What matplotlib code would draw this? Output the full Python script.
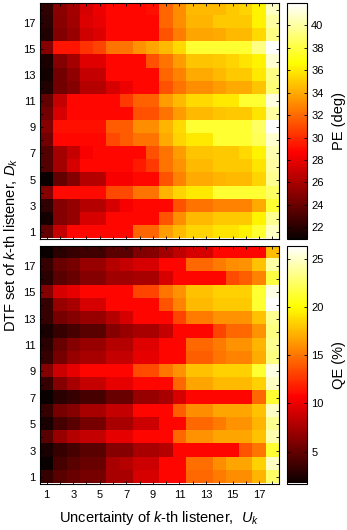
import numpy as np
import matplotlib as mpl
mpl.use('Agg')
import matplotlib.pyplot as plt

plt.rcParams['font.family'] = ['Liberation Sans', 'DejaVu Sans']
plt.rcParams['mathtext.fontset'] = 'custom'
plt.rcParams['mathtext.rm'] = 'Liberation Sans'
plt.rcParams['mathtext.it'] = 'Liberation Sans:italic'

# uncertainty U_k (columns) and DTF set D_k (rows)
uncertainty = list(range(1, 19))
dtf_set = list(range(1, 19))

# PE (deg), rows listed from D_k = 18 (top) down to D_k = 1
pe = [
    [22.3, 25.1, 25.9, 27.4, 28.2, 28.9, 28.9, 28.9, 29.2, 31.9, 33.1, 34.5, 34.5, 34.5, 35.0, 35.3, 36.3, 40.7],
    [22.0, 25.0, 25.7, 27.6, 28.0, 28.9, 28.9, 28.9, 28.9, 31.9, 33.1, 34.3, 34.3, 35.0, 35.0, 35.0, 36.3, 40.0],
    [21.8, 24.8, 25.5, 27.2, 27.6, 28.9, 28.9, 28.9, 28.9, 31.3, 32.6, 33.8, 33.8, 34.0, 34.5, 34.5, 35.5, 39.4],
    [24.9, 29.3, 29.3, 30.2, 30.8, 32.3, 32.3, 33.3, 33.8, 34.5, 35.5, 37.7, 37.7, 37.7, 37.7, 37.7, 39.4, 42.0],
    [21.6, 24.9, 25.9, 27.8, 27.8, 28.9, 28.9, 28.9, 31.2, 32.3, 33.6, 34.8, 34.8, 35.0, 35.3, 35.8, 36.3, 41.0],
    [21.4, 24.3, 25.2, 26.9, 26.9, 28.9, 28.9, 28.9, 28.9, 31.9, 32.8, 34.0, 34.0, 34.5, 35.0, 35.0, 36.0, 39.4],
    [21.8, 24.3, 24.9, 26.4, 26.4, 27.4, 28.2, 28.9, 28.9, 31.2, 32.3, 33.1, 33.1, 33.6, 34.0, 34.0, 34.8, 39.1],
    [23.8, 26.9, 28.9, 28.9, 28.9, 28.9, 30.5, 31.7, 31.7, 33.6, 34.5, 35.5, 35.5, 36.0, 36.0, 37.7, 37.7, 41.3],
    [24.3, 27.4, 28.9, 28.9, 28.9, 28.9, 28.9, 31.2, 31.2, 32.3, 33.6, 34.5, 34.5, 34.8, 35.0, 35.0, 35.8, 40.0],
    [24.9, 29.2, 29.2, 29.2, 29.2, 31.5, 31.5, 33.1, 33.1, 34.3, 35.5, 37.7, 37.7, 37.7, 37.7, 37.7, 38.7, 42.0],
    [24.3, 28.9, 28.9, 28.9, 28.9, 31.0, 31.5, 32.3, 32.3, 34.0, 35.3, 36.0, 36.0, 37.7, 37.7, 37.7, 38.4, 41.0],
    [23.3, 25.9, 26.9, 28.5, 28.9, 28.9, 28.9, 28.9, 31.2, 32.3, 33.6, 34.8, 34.8, 35.0, 35.0, 35.5, 36.3, 40.3],
    [23.3, 25.9, 27.4, 28.9, 28.9, 28.9, 28.9, 29.5, 30.5, 32.3, 33.3, 34.5, 34.5, 35.0, 35.0, 35.0, 35.8, 40.0],
    [21.0, 23.8, 24.9, 26.4, 26.4, 28.5, 28.5, 28.9, 28.9, 31.3, 32.8, 34.0, 34.0, 34.3, 34.5, 34.5, 35.3, 39.7],
    [24.9, 29.0, 29.0, 29.0, 29.0, 31.0, 31.0, 32.3, 32.3, 34.3, 35.3, 36.0, 36.0, 37.7, 37.7, 37.7, 37.7, 38.7],
    [22.3, 24.9, 25.4, 26.4, 26.4, 27.4, 28.5, 28.9, 28.9, 28.9, 31.2, 32.3, 32.3, 32.8, 32.8, 32.8, 34.0, 37.7],
    [21.4, 24.9, 25.4, 27.4, 27.4, 28.9, 28.9, 28.9, 28.9, 31.3, 33.1, 34.5, 34.5, 35.0, 35.0, 35.0, 36.3, 39.7],
    [23.8, 26.9, 28.9, 28.9, 28.9, 28.9, 28.9, 31.9, 31.9, 33.6, 34.5, 35.3, 35.3, 35.8, 35.8, 36.3, 37.7, 40.7],
]

# QE (%), rows listed from D_k = 18 (top) down to D_k = 1
qe = [
    [1.7, 2.9, 3.4, 3.7, 3.7, 4.6, 4.6, 6.0, 6.3, 7.3, 8.3, 9.2, 9.2, 10.9, 10.9, 10.9, 10.9, 17.6],
    [3.4, 5.2, 5.7, 6.9, 6.9, 8.0, 8.6, 9.2, 9.2, 10.9, 10.9, 14.5, 14.5, 15.2, 15.9, 16.1, 17.8, 24.0],
    [2.9, 4.6, 5.2, 6.3, 6.3, 7.2, 7.2, 7.5, 7.5, 9.2, 10.9, 10.9, 10.9, 10.9, 13.5, 14.1, 15.5, 21.6],
    [6.3, 9.2, 9.8, 10.9, 10.9, 10.9, 10.9, 13.2, 13.2, 15.0, 16.1, 17.8, 17.8, 18.4, 18.4, 18.4, 21.3, 25.6],
    [3.4, 6.9, 7.5, 9.2, 9.2, 10.9, 10.9, 10.9, 10.9, 13.8, 15.5, 17.5, 17.5, 18.1, 18.1, 18.1, 21.3, 26.3],
    [3.4, 5.7, 6.3, 6.9, 6.9, 8.0, 9.2, 10.9, 10.9, 10.9, 13.2, 15.2, 15.2, 16.1, 16.1, 16.1, 17.8, 23.6],
    [2.3, 3.4, 4.0, 4.6, 4.6, 6.3, 6.9, 7.5, 7.5, 8.6, 10.9, 10.9, 10.9, 13.2, 14.5, 14.5, 16.1, 23.2],
    [2.9, 5.2, 6.3, 6.9, 6.9, 8.0, 8.0, 9.5, 9.5, 10.9, 10.9, 14.5, 14.5, 15.2, 16.1, 16.1, 17.3, 23.6],
    [3.4, 5.7, 6.9, 7.5, 7.5, 8.6, 8.6, 9.8, 9.8, 10.9, 10.9, 14.1, 14.1, 15.0, 15.5, 15.5, 17.0, 23.2],
    [6.3, 8.9, 9.8, 10.9, 10.9, 10.9, 10.9, 13.5, 13.5, 15.0, 16.1, 17.8, 17.8, 18.4, 18.4, 18.4, 21.3, 25.6],
    [3.4, 6.3, 7.5, 8.6, 8.6, 9.8, 9.8, 10.9, 10.9, 10.9, 14.5, 16.7, 16.7, 17.5, 17.5, 17.5, 18.4, 24.8],
    [1.7, 2.9, 3.4, 4.0, 4.0, 5.2, 5.2, 6.9, 6.9, 7.5, 9.2, 10.9, 10.9, 10.9, 10.9, 10.9, 14.5, 21.3],
    [3.4, 5.7, 6.3, 7.5, 7.5, 8.6, 8.6, 10.9, 10.9, 10.9, 14.1, 15.9, 15.9, 16.7, 16.7, 16.7, 17.8, 24.8],
    [2.3, 4.0, 4.6, 5.7, 5.7, 7.5, 7.5, 8.9, 8.9, 10.9, 10.9, 14.5, 14.5, 15.2, 16.1, 16.1, 17.3, 23.6],
    [4.6, 6.9, 8.0, 8.6, 8.6, 9.8, 9.8, 10.9, 10.9, 10.9, 14.5, 16.1, 16.1, 16.7, 16.7, 16.7, 17.8, 24.3],
    [2.3, 3.4, 4.0, 4.6, 4.6, 6.3, 6.3, 7.5, 7.5, 8.0, 10.9, 10.9, 10.9, 10.9, 10.9, 13.8, 15.0, 21.3],
    [1.7, 4.0, 4.6, 5.2, 5.2, 7.5, 8.0, 8.9, 8.9, 10.9, 10.9, 14.7, 14.7, 15.9, 16.7, 16.7, 18.4, 24.8],
    [3.4, 4.6, 5.2, 5.7, 5.7, 7.5, 7.5, 9.2, 9.2, 10.9, 10.9, 14.5, 14.5, 15.2, 15.9, 15.9, 17.3, 22.5],
]

pe_ticks = [22, 24, 26, 28, 30, 32, 34, 36, 38, 40]
qe_ticks = [5, 10, 15, 20, 25]

W, H = 347.0, 530.0
fig = plt.figure(figsize=(W / 100, H / 100), dpi=100)


def box(x0, y0, x1, y1):
    return [x0 / W, 1 - y1 / H, (x1 - x0) / W, (y1 - y0) / H]


ax1 = fig.add_axes(box(40, 3, 279, 238.5))
ax2 = fig.add_axes(box(40, 246, 279, 483.5))
cax1 = fig.add_axes(box(287, 3, 307, 238.5))
cax2 = fig.add_axes(box(287, 246, 307, 483.5))

ext = (uncertainty[0] - 0.5, uncertainty[-1] + 0.5, dtf_set[0] - 0.5, dtf_set[-1] + 0.5)
panels = [(ax1, cax1, pe, 'PE (deg)', pe_ticks, 21.0, 42.0),
          (ax2, cax2, qe, 'QE (%)', qe_ticks, 1.7, 26.3)]

for ax, cax, data, lab, cticks, vmin, vmax in panels:
    im = ax.imshow(np.array(data), cmap='hot', vmin=vmin, vmax=vmax, extent=ext,
                   origin='upper', aspect='auto', interpolation='nearest')
    ax.set_xticks(uncertainty)
    ax.set_yticks(dtf_set)
    ax.set_yticklabels([str(d) if d % 2 else '' for d in dtf_set], fontsize=8)
    ax.tick_params(direction='in', top=True, right=True, length=2.5, width=0.6, pad=3)
    for s in ax.spines.values():
        s.set_linewidth(0.8)
    cb = fig.colorbar(im, cax=cax)
    cb.set_ticks(cticks)
    cax.tick_params(direction='in', left=True, right=True, length=2.5, width=0.6,
                    labelsize=8, pad=3)
    cb.outline.set_linewidth(0.8)
    cb.set_label(lab, fontsize=10.5, labelpad=6)

ax1.set_xticklabels([])
ax2.set_xticklabels([str(u) if u % 2 else '' for u in uncertainty], fontsize=8)
ax2.tick_params(axis='x', pad=5)

fig.text(159.5 / W, 1 - 518 / H, r'Uncertainty of $k$-th listener,  $U_k$',
         ha='center', va='center', fontsize=10.5)
fig.text(11 / W, 1 - 245 / H, r'DTF set of $k$-th listener, $D_k$',
         ha='center', va='center', rotation=90, fontsize=10.5)

fig.savefig('out.png', dpi=100)
